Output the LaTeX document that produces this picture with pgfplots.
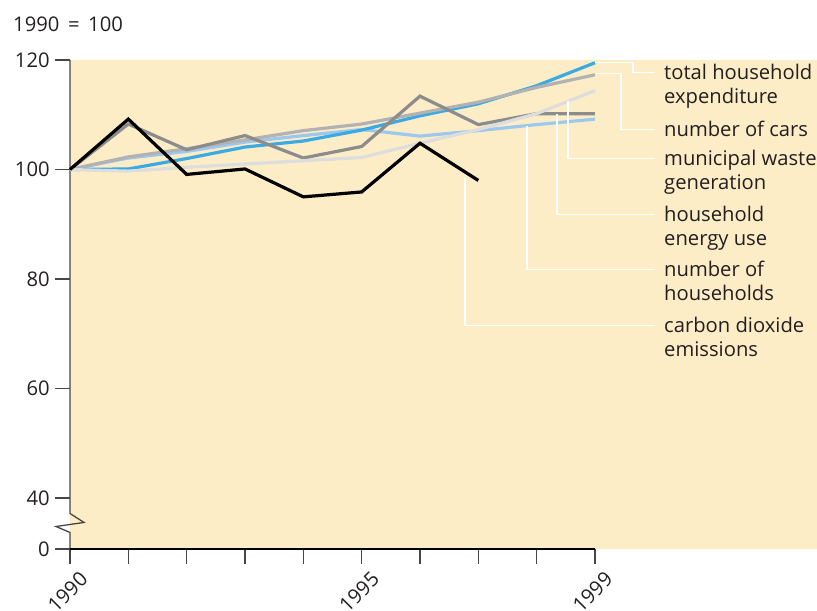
\documentclass[border=0pt]{standalone}
\usepackage{fontspec}
\setmainfont{Open Sans}
\usepackage{pgfplots}
\pgfplotsset{compat=1.18}
\definecolor{cream}{RGB}{253,237,199}
\definecolor{cblue}{RGB}{60,170,226}
\definecolor{clblue}{RGB}{157,200,238}
\definecolor{clgray}{RGB}{178,178,178}
\definecolor{cdgray}{RGB}{140,140,140}
\definecolor{cvlgray}{RGB}{221,221,221}
\definecolor{axgray}{RGB}{70,70,70}
\definecolor{txt}{RGB}{35,31,32}
\newcommand{\lab}{\fontsize{10.1}{12}\selectfont}
\begin{document}
\begin{tikzpicture}[x=0.5pt,y=0.5pt]
\useasboundingbox (-70,-61) rectangle (747,549);
\begin{axis}[
  at={(0,0)}, anchor=south west,
  scale only axis, width=373.5pt, height=244.5pt,
  xmin=1990, xmax=2002.806, ymin=30.68, ymax=120,
  axis lines=left, axis line style={draw=none,-},
  axis background/.style={fill=cream},
  clip=false,
  tick align=outside,
  major tick length=7.5pt,
  minor tick length=7.5pt,
  tick style={draw=axgray, line width=0.65pt},
  xtick={1990,1995,1999},
  xticklabels={1990,1995,1999},
  minor xtick={1991,1992,1993,1994,1996,1997,1998},
  ytick={30.68,40,60,80,100,120},
  yticklabels={0,40,60,80,100,120},
  tick label style={font=\lab, text=txt},
  xticklabel style={rotate=45, anchor=east, inner sep=1pt, xshift=2pt, yshift=-9pt},
  yticklabel style={inner sep=2.5pt},
  every axis plot/.append style={line width=1.6pt, line join=miter},
]
% axes lines
\draw[axgray, line width=0.65pt] (axis cs:1990,120) -- (axis cs:1990,37.17) -- (axis cs:1990.24,35.53) -- (axis cs:1989.76,34.79) -- (axis cs:1990,33.70) -- (axis cs:1990,30.68);
\draw[black, line width=0.65pt] (axis cs:1990,30.68) -- (axis cs:1999,30.68);
% data
\addplot[clblue] coordinates {(1990,100) (1991,102.1) (1992,103.3) (1993,105.0) (1994,106.2) (1995,107.3) (1996,106.1) (1997,107.1) (1998,108.2) (1999,109.2)};
\addplot[cblue] coordinates {(1990,100) (1991,100.1) (1992,102.0) (1993,104.1) (1994,105.2) (1995,107.2) (1996,109.8) (1997,112.0) (1998,115.3) (1999,119.5)};
\addplot[clgray] coordinates {(1990,100) (1991,102.3) (1992,103.8) (1993,105.4) (1994,107.1) (1995,108.3) (1996,110.3) (1997,112.3) (1998,115.0) (1999,117.3)};
\addplot[cdgray] coordinates {(1990,100) (1991,108.3) (1992,103.6) (1993,106.2) (1994,102.1) (1995,104.2) (1996,113.4) (1997,108.2) (1998,110.2) (1999,110.2)};
\addplot[cvlgray] coordinates {(1990,100) (1991,99.7) (1992,100.4) (1993,101.0) (1994,101.6) (1995,102.2) (1996,104.8) (1997,107.3) (1998,110.2) (1999,114.4)};
\addplot[black] coordinates {(1990,100) (1991,109.2) (1992,99.1) (1993,100.1) (1994,95.0) (1995,95.9) (1996,104.8) (1997,98.0)};
% leaders
\begin{scope}[white, line width=0.75pt]
\draw (axis cs:1999,119.5) -- (axis cs:1999.65,119.5) -- (axis cs:1999.65,117.7) -- (axis cs:2000.03,117.7);
\draw (axis cs:1999,117.5) -- (axis cs:1999.45,117.5) -- (axis cs:1999.45,107.3) -- (axis cs:2000.03,107.3);
\draw (axis cs:1998.54,112.6) -- (axis cs:1998.54,102.0) -- (axis cs:2000.03,102.0);
\draw (axis cs:1998.35,110.2) -- (axis cs:1998.35,91.8) -- (axis cs:2000.03,91.8);
\draw (axis cs:1997.83,108.0) -- (axis cs:1997.83,81.75) -- (axis cs:2000.03,81.75);
\draw (axis cs:1996.77,98.5) -- (axis cs:1996.77,71.5) -- (axis cs:2000.03,71.5);
\end{scope}
% labels
\begin{scope}[every node/.style={anchor=base west, inner sep=0pt, font=\lab, text=txt}]
\node at (axis cs:2000.18,116.4) {total household};
\node at (axis cs:2000.18,112.0) {expenditure};
\node at (axis cs:2000.18,106.0) {number of cars};
\node at (axis cs:2000.18,100.7) {municipal waste};
\node at (axis cs:2000.18,96.3) {generation};
\node at (axis cs:2000.18,90.5) {household};
\node at (axis cs:2000.18,86.1) {energy use};
\node at (axis cs:2000.18,80.5) {number of};
\node at (axis cs:2000.18,76.1) {households};
\node at (axis cs:2000.18,70.2) {carbon dioxide};
\node at (axis cs:2000.18,65.8) {emissions};
\node at (axis cs:1989.02,125.2) {1990 \,=\, 100};
\end{scope}
\end{axis}
\end{tikzpicture}
\end{document}
